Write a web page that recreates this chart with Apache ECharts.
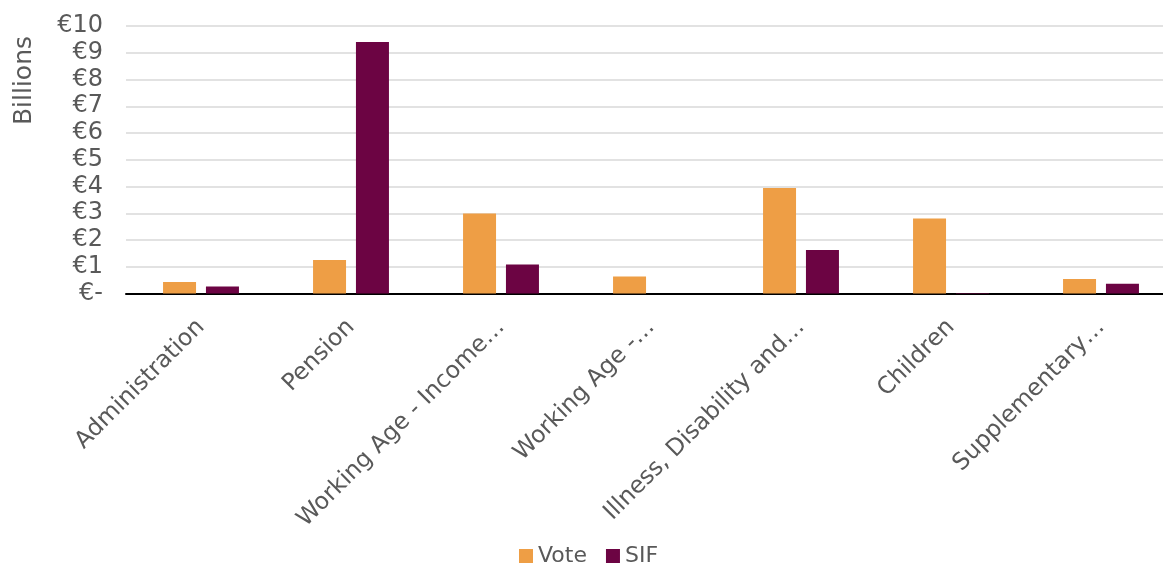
<!DOCTYPE html>
<html><head><meta charset="utf-8">
<script src="https://cdn.jsdelivr.net/npm/echarts@6/dist/echarts.min.js"></script>
<style>html,body{margin:0;padding:0;background:#fff}#c{width:1163px;height:572px}</style>
</head><body><div id="c"></div>
<script>
const categories = ["Administration","Pension","Working Age - Income…","Working Age -…","Illness, Disability and…","Children","Supplementary…"];
const voteValues = [0.43, 1.25, 2.99, 0.64, 3.94, 2.80, 0.54];
const sifValues  = [0.26, 9.40, 1.08, 0.00, 1.63, 0.02, 0.36];
const yTicks = {0:"€-",1:"€1",2:"€2",3:"€3",4:"€4",5:"€5",6:"€6",7:"€7",8:"€8",9:"€9",10:"€10"};
const font = "DejaVu Sans";
const chart = echarts.init(document.getElementById('c'));
chart.setOption({
  animation:false,
  textStyle:{fontFamily:font},
  grid:{left:126,width:1050,top:26,bottom:278.5,containLabel:false,outerBoundsMode:'none'},
  legend:{bottom:0,left:514,itemWidth:14,itemHeight:14,itemGap:19,icon:'rect',
    textStyle:{fontFamily:font,fontSize:22,color:'#595959'},data:['Vote','SIF']},
  xAxis:{type:'category',data:categories,
    axisLine:{lineStyle:{color:'#000',width:2}},axisTick:{show:false},
    axisLabel:{rotate:45,fontSize:23.5,color:'#595959',fontFamily:font,margin:30,interval:0}},
  yAxis:{type:'value',min:0,max:10,interval:1,
    name:'Billions',nameLocation:'end',nameRotate:90,nameGap:0,
    nameTextStyle:{fontSize:25,color:'#595959',fontFamily:font,align:'right',verticalAlign:'bottom',padding:[0,10,89,0]},
    axisLine:{show:false},axisTick:{show:false},
    splitLine:{lineStyle:{color:'#d9d9d9',width:1.5}},
    axisLabel:{fontSize:24,color:'#595959',fontFamily:font,margin:23,formatter:v=>yTicks[v]}},
  series:[
    {name:'Vote',type:'bar',data:voteValues,barWidth:33,barGap:'30%',itemStyle:{color:'#EE9E45'}},
    {name:'SIF',type:'bar',data:sifValues,barWidth:33,itemStyle:{color:'#6C0443'}}
  ]
});
</script></body></html>
